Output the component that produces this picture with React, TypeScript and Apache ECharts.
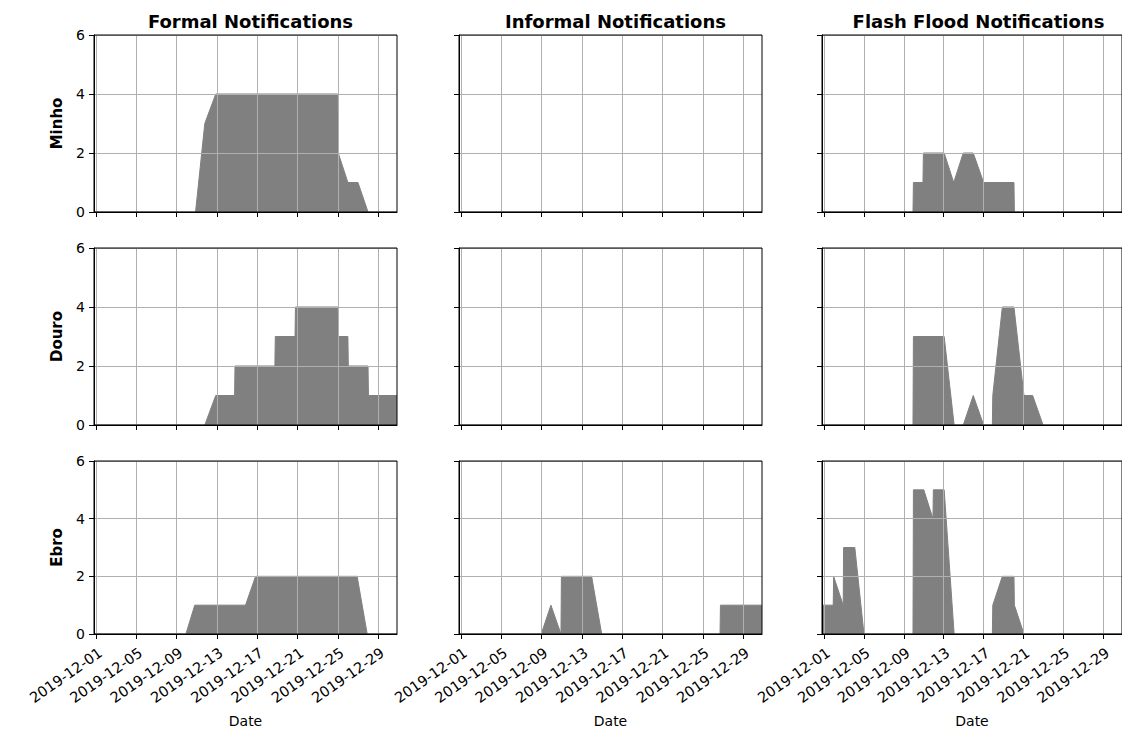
import React, { useEffect, useRef } from 'react';
import * as echarts from 'echarts';

// Panel layout: one row per river basin, one column per notification type
const rivers = ['Minho', 'Douro', 'Ebro'];
const notificationTypes = ['Formal Notifications', 'Informal Notifications', 'Flash Flood Notifications'];

// Major date ticks shown on the x axes
const tickDates = [
  '2019-12-01', '2019-12-05', '2019-12-09', '2019-12-13',
  '2019-12-17', '2019-12-21', '2019-12-25', '2019-12-29',
];

// Time span covered by every panel
const rangeStart = '2019-11-30 19:00';
const rangeEnd = '2019-12-30 21:00';

// Count of active notifications at each change point
type Pt = [string, number];

const minhoFormal: Pt[] = [
  ['2019-11-30 19:00', 0], ['2019-12-10 21:00', 0], ['2019-12-11 19:00', 3], ['2019-12-12 21:00', 4],
  ['2019-12-25 00:00', 4], ['2019-12-25 01:00', 2], ['2019-12-26 00:00', 1], ['2019-12-27 00:00', 1],
  ['2019-12-28 00:00', 0], ['2019-12-30 21:00', 0],
];
const douroFormal: Pt[] = [
  ['2019-11-30 19:00', 0], ['2019-12-11 19:00', 0], ['2019-12-12 21:00', 1], ['2019-12-14 18:00', 1],
  ['2019-12-14 19:00', 2], ['2019-12-18 18:00', 2], ['2019-12-18 19:00', 3], ['2019-12-20 18:00', 3],
  ['2019-12-20 19:00', 4], ['2019-12-25 00:00', 4], ['2019-12-25 01:00', 3], ['2019-12-26 00:00', 3],
  ['2019-12-26 01:00', 2], ['2019-12-28 00:00', 2], ['2019-12-28 01:00', 1], ['2019-12-30 21:00', 1],
];
const ebroFormal: Pt[] = [
  ['2019-11-30 19:00', 0], ['2019-12-09 22:00', 0], ['2019-12-10 19:00', 1], ['2019-12-15 20:00', 1],
  ['2019-12-16 20:00', 2], ['2019-12-26 22:00', 2], ['2019-12-27 22:00', 0], ['2019-12-30 21:00', 0],
];

const minhoInformal: Pt[] = [['2019-11-30 19:00', 0], ['2019-12-30 21:00', 0]];
const douroInformal: Pt[] = [['2019-11-30 19:00', 0], ['2019-12-30 21:00', 0]];
const ebroInformal: Pt[] = [
  ['2019-11-30 19:00', 0], ['2019-12-08 23:00', 0], ['2019-12-09 22:00', 1], ['2019-12-10 22:00', 0],
  ['2019-12-10 23:00', 2], ['2019-12-13 23:00', 2], ['2019-12-14 23:00', 0], ['2019-12-26 17:00', 0],
  ['2019-12-26 18:00', 1], ['2019-12-30 21:00', 1],
];

const minhoFlash: Pt[] = [
  ['2019-11-30 19:00', 0], ['2019-12-09 22:00', 0], ['2019-12-09 23:00', 1], ['2019-12-10 22:00', 1],
  ['2019-12-10 23:00', 2], ['2019-12-13 01:00', 2], ['2019-12-14 00:00', 1], ['2019-12-14 23:00', 2],
  ['2019-12-15 23:00', 2], ['2019-12-17 00:00', 1], ['2019-12-20 01:00', 1], ['2019-12-20 02:00', 0],
  ['2019-12-30 21:00', 0],
];
const douroFlash: Pt[] = [
  ['2019-11-30 19:00', 0], ['2019-12-09 22:00', 0], ['2019-12-09 23:00', 3], ['2019-12-13 01:00', 3],
  ['2019-12-14 01:00', 0], ['2019-12-14 23:00', 0], ['2019-12-15 23:00', 1], ['2019-12-17 00:00', 0],
  ['2019-12-17 21:00', 0], ['2019-12-17 22:00', 1], ['2019-12-18 21:00', 4], ['2019-12-20 01:00', 4],
  ['2019-12-21 01:00', 1], ['2019-12-21 22:00', 1], ['2019-12-22 23:00', 0], ['2019-12-30 21:00', 0],
];
const ebroFlash: Pt[] = [
  ['2019-11-30 19:00', 1], ['2019-12-01 22:00', 1], ['2019-12-01 23:00', 2], ['2019-12-02 22:00', 1],
  ['2019-12-02 23:00', 3], ['2019-12-04 02:00', 3], ['2019-12-05 00:00', 0], ['2019-12-09 22:00', 0],
  ['2019-12-09 23:00', 5], ['2019-12-11 00:00', 5], ['2019-12-11 22:00', 4], ['2019-12-11 23:00', 5],
  ['2019-12-13 01:00', 5], ['2019-12-14 01:00', 0], ['2019-12-17 21:00', 0], ['2019-12-17 22:00', 1],
  ['2019-12-18 21:00', 2], ['2019-12-20 01:00', 2], ['2019-12-20 02:00', 1], ['2019-12-21 01:00', 0],
  ['2019-12-30 21:00', 0],
];

// rows follow `rivers`, columns follow `notificationTypes`
const panelSeries: Pt[][][] = [
  [minhoFormal, minhoInformal, minhoFlash],
  [douroFormal, douroInformal, douroFlash],
  [ebroFormal, ebroInformal, ebroFlash],
];

const ORIGIN = Date.UTC(2019, 11, 1);
// Convert "YYYY-MM-DD[ HH:mm]" into fractional days since 2019-12-01
function toDay(s: string): number {
  const [d, t] = s.split(' ');
  const [y, m, dd] = d.split('-').map(Number);
  const [hh, mm] = (t || '00:00').split(':').map(Number);
  return (Date.UTC(y, m - 1, dd, hh, mm) - ORIGIN) / 86400000;
}

const FONT = 'DejaVu Sans';
const AREA = '#808080';
const GRIDLINE = '#b0b0b0';

const colLeft = [94, 459, 822];
const rowTop = [35, 248, 461];
const PANEL_W = 303;
const PANEL_H = 177;

export default function App() {
  const ref = useRef<HTMLDivElement>(null);

  useEffect(() => {
    if (!ref.current) return;
    const chart = echarts.init(ref.current, null, { renderer: 'svg' });

    const tickDays = tickDates.map(toDay);
    const labelFor = (v: number) => {
      const i = tickDays.findIndex((d) => Math.abs(d - v) < 1e-6);
      return i >= 0 ? tickDates[i] : '';
    };
    const xMin = toDay(rangeStart);
    const xMax = toDay(rangeEnd);

    const grid: any[] = [];
    const xAxis: any[] = [];
    const yAxis: any[] = [];
    const series: any[] = [];

    rivers.forEach((river, r) => {
      notificationTypes.forEach((_, c) => {
        const idx = r * 3 + c;
        grid.push({
          left: colLeft[c], top: rowTop[r], width: PANEL_W, height: PANEL_H,
          show: true, borderColor: '#000', borderWidth: 1, backgroundColor: 'transparent', z: 6,
        });
        xAxis.push({
          gridIndex: idx, type: 'value', min: xMin, max: xMax, z: 5,
          axisLine: { show: true, onZero: false, lineStyle: { color: '#000', width: 1 } },
          axisTick: { show: true, customValues: tickDays, length: 5, lineStyle: { color: '#000' } },
          axisLabel: {
            show: r === 2, customValues: tickDays, rotate: 35, margin: 11,
            fontSize: 14.5, color: '#000', fontFamily: FONT, formatter: labelFor,
            align: 'right', verticalAlign: 'top',
          },
          splitLine: { show: true, lineStyle: { color: GRIDLINE, width: 1 } },
          name: r === 2 ? 'Date' : '',
          nameLocation: 'middle', nameGap: 80, nameMoveOverlap: false,
          nameTextStyle: { fontSize: 14, color: '#000', fontFamily: FONT },
        });
        yAxis.push({
          gridIndex: idx, type: 'value', min: 0, max: 6, interval: 2, z: 5,
          axisLine: { show: true, onZero: false, lineStyle: { color: '#000', width: 1 } },
          axisTick: { show: true, length: 5, lineStyle: { color: '#000' } },
          axisLabel: { show: c === 0, margin: 9, fontSize: 14, color: '#000', fontFamily: FONT },
          splitLine: { show: true, lineStyle: { color: GRIDLINE, width: 1 } },
          name: c === 0 ? river : '',
          nameLocation: 'middle', nameGap: 30, nameRotate: 90, nameMoveOverlap: false,
          nameTextStyle: { fontSize: 15, fontWeight: 'bold', color: '#000', fontFamily: FONT },
        });
        series.push({
          type: 'line', xAxisIndex: idx, yAxisIndex: idx, z: 2,
          data: panelSeries[r][c].map(([t, v]) => [toDay(t), v]),
          showSymbol: false, symbol: 'none',
          lineStyle: { color: AREA, width: 1 },
          areaStyle: { color: AREA, opacity: 1 },
          silent: true,
        });
      });
    });

    chart.setOption({
      animation: false,
      backgroundColor: '#fff',
      textStyle: { fontFamily: FONT },
      title: notificationTypes.map((t, c) => ({
        text: t, left: colLeft[c] + PANEL_W / 2, top: 7, textAlign: 'center',
        textStyle: { fontSize: 18, fontWeight: 'bold', color: '#000', fontFamily: FONT },
      })),
      grid, xAxis, yAxis, series,
    });

    return () => chart.dispose();
  }, []);

  return (
    <div
      ref={ref}
      style={{ position: 'fixed', left: 0, top: 0, width: 1122, height: 729, background: '#fff' }}
    />
  );
}
